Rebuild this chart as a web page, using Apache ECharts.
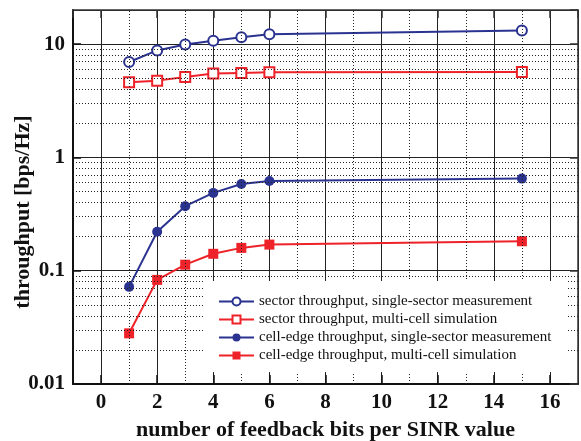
<!DOCTYPE html>
<html>
<head>
<meta charset="utf-8">
<script src="https://cdn.jsdelivr.net/npm/echarts@6/dist/echarts.min.js"></script>
<style>
html,body{margin:0;padding:0;background:#fff;}
#chart{width:581px;height:441px;}
</style>
</head>
<body>
<div id="chart"></div>
<script>
const xValues = [1, 2, 3, 4, 5, 6, 15];
const sectorSingle = [6.95, 8.8, 9.9, 10.7, 11.5, 12.2, 13.2];
const sectorMulti = [4.6, 4.76, 5.13, 5.49, 5.56, 5.63, 5.67];
const edgeSingle = [0.072, 0.221, 0.371, 0.486, 0.583, 0.62, 0.65];
const edgeMulti = [0.028, 0.083, 0.113, 0.141, 0.159, 0.170, 0.182];
const seriesNames = [
  'sector throughput, single-sector measurement',
  'sector throughput, multi-cell simulation',
  'cell-edge throughput, single-sector measurement',
  'cell-edge throughput, multi-cell simulation'
];
const xTickLabels = ['0', '2', '4', '6', '8', '10', '12', '14', '16'];
const yTickValues = [0.01, 0.1, 1, 10];
const yTickLabels = ['0.01', '0.1', '1', '10'];
const yMinorValues = [0.02,0.03,0.04,0.05,0.06,0.07,0.08,0.09,
                      0.2,0.3,0.4,0.5,0.6,0.7,0.8,0.9,
                      2,3,4,5,6,7,8,9];
const xMinorValues = [1, 3, 5, 7, 9, 11, 13, 15];
const xTitle = 'number of feedback bits per SINR value';
const yTitle = 'throughput [bps/Hz]';

const BLUE = '#2b3391';
const RED = '#ee2229';
const FONT = '"Liberation Serif", "Times New Roman", serif';

function pairs(ys) { return xValues.map((x, i) => [x, ys[i]]); }
function yLabel(v) {
  for (let i = 0; i < yTickValues.length; i++) {
    if (Math.abs(v - yTickValues[i]) / yTickValues[i] < 1e-6) return yTickLabels[i];
  }
  return '';
}
function xLabel(v) {
  const s = String(Math.round(v));
  return (Math.abs(v - Math.round(v)) < 1e-9 && xTickLabels.indexOf(s) >= 0) ? s : '';
}

const chart = echarts.init(document.getElementById('chart'), null, {renderer: 'canvas'});
const dotted = {color: '#222', width: 1, type: [1, 2]};

const option = {
  animation: false,
  backgroundColor: '#fff',
  textStyle: {fontFamily: FONT},
  grid: {left: 73, right: 3, top: 10, bottom: 57, containLabel: false, outerBoundsMode: 'none'},
  xAxis: [{
    type: 'value', min: -1, max: 17, splitNumber: 9,
    axisLine: {show: true, onZero: false, lineStyle: {color: '#111', width: 2}},
    axisTick: {show: true, inside: true, length: 9, lineStyle: {color: '#111', width: 1.5}},
    axisLabel: {formatter: xLabel, color: '#111', fontSize: 21, fontWeight: 'bold', fontFamily: FONT, margin: 8, showMinLabel: false, showMaxLabel: false},
    splitLine: {show: true, lineStyle: {color: '#222', width: 1}},
    name: xTitle, nameLocation: 'middle', nameGap: 35,
    nameTextStyle: {color: '#111', fontSize: 22, fontWeight: 'bold', fontFamily: FONT}
  }, {
    type: 'value', min: -1, max: 17, splitNumber: 9, position: 'top',
    axisLine: {show: true, onZero: false, lineStyle: {color: '#333', width: 1.5}},
    axisTick: {show: true, inside: true, length: 8, lineStyle: {color: '#333', width: 1.5}},
    axisLabel: {show: false}, splitLine: {show: false}
  }],
  yAxis: [{
    type: 'log', logBase: 10, min: 0.01, max: 20,
    axisLine: {show: true, onZero: false, lineStyle: {color: '#111', width: 2}},
    axisTick: {show: true, inside: true, length: 8, lineStyle: {color: '#111', width: 1.5}},
    axisLabel: {formatter: yLabel, color: '#111', fontSize: 21, fontWeight: 'bold', fontFamily: FONT, margin: 8, showMaxLabel: false},
    splitLine: {show: true, lineStyle: {color: '#222', width: 1}}
  }, {
    type: 'log', logBase: 10, min: 0.01, max: 20, position: 'right',
    axisLine: {show: true, onZero: false, lineStyle: {color: '#333', width: 1.5}},
    axisTick: {show: true, inside: true, length: 8, lineStyle: {color: '#333', width: 1.5}},
    axisLabel: {show: false}, splitLine: {show: false}
  }],
  legend: {
    data: seriesNames,
    orient: 'vertical', left: 205, top: 280, z: 100,
    padding: [14, 22, 12, 13],
    itemGap: 3, itemWidth: 35, itemHeight: 10,
    textStyle: {color: '#111', fontSize: 15, fontFamily: FONT, lineHeight: 14},
    selectedMode: false
  },
  series: [
    {
      name: 'grid-minor', type: 'line', data: [], silent: true, z: 1,
      markLine: {
        silent: true, symbol: 'none', animation: false,
        label: {show: false},
        lineStyle: dotted,
        data: yMinorValues.map(v => ({yAxis: v})).concat(xMinorValues.map(v => ({xAxis: v})))
      }
    },
    {
      name: seriesNames[0], type: 'line', data: pairs(sectorSingle), z: 3,
      symbol: 'emptyCircle', symbolSize: 10,
      lineStyle: {color: BLUE, width: 2}, itemStyle: {color: BLUE, borderWidth: 1.3}
    },
    {
      name: seriesNames[1], type: 'line', data: pairs(sectorMulti), z: 3,
      symbol: 'emptyRect', symbolSize: 10,
      lineStyle: {color: RED, width: 2}, itemStyle: {color: RED, borderWidth: 1.3}
    },
    {
      name: seriesNames[2], type: 'line', data: pairs(edgeSingle), z: 3,
      symbol: 'circle', symbolSize: 10,
      lineStyle: {color: BLUE, width: 2}, itemStyle: {color: BLUE}
    },
    {
      name: seriesNames[3], type: 'line', data: pairs(edgeMulti), z: 3,
      symbol: 'rect', symbolSize: 10,
      lineStyle: {color: RED, width: 2}, itemStyle: {color: RED}
    }
  ],
  graphic: {
    z: 50,
    elements: [{
      type: 'rect', z: 50, silent: true,
      shape: {x: 205, y: 281, width: 362, height: 91},
      style: {fill: '#fff'}
    }, {
      type: 'text', x: 23, y: 212, rotation: Math.PI / 2,
      style: {text: yTitle, fill: '#111', font: 'bold 22px ' + FONT, align: 'center', verticalAlign: 'middle'}
    }]
  }
};
chart.setOption(option);
</script>
</body>
</html>
